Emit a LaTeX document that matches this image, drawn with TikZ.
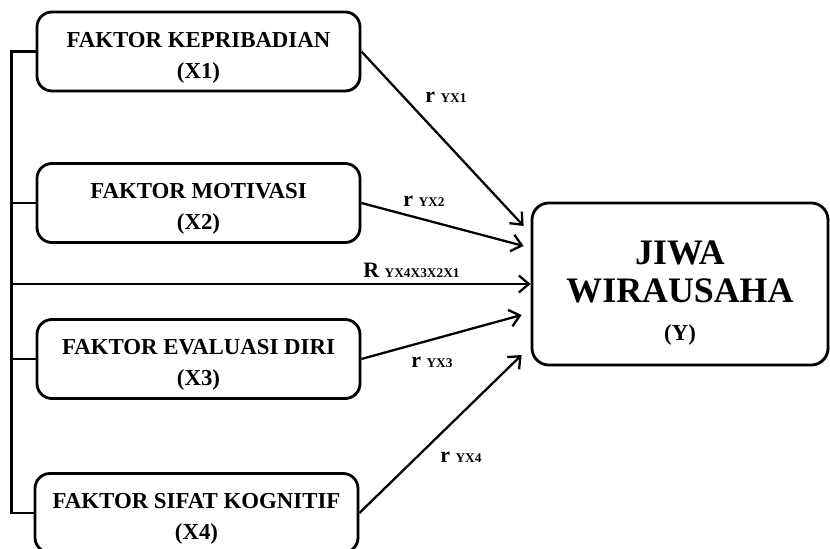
\documentclass[tikz,border=0pt]{standalone}
\usepackage{fontspec}
\setmainfont{Liberation Serif}
\usetikzlibrary{arrows.meta,positioning,shadows}
\newcommand{\fsub}[1]{{\fontsize{7.6}{8.5}\selectfont #1}}
\newcommand{\turun}[1]{\rule{0pt}{#1}}

\begin{document}
\begin{tikzpicture}[>={Straight Barb[length=2mm,width=3.4mm]},
 faktor/.style={rounded corners=8.5pt,draw,line width=1.6pt,fill=white,minimum width=6.46cm,minimum height=1.58cm,align=center,inner sep=2pt,font=\fontsize{13}{17.6}\selectfont\bfseries,drop shadow={shadow xshift=0.8pt,shadow yshift=-0.8pt,opacity=0.3}},
 hasil/.style={rounded corners=9.6pt,draw,line width=1.6pt,fill=white,minimum width=5.92cm,minimum height=3.24cm,align=center,inner sep=2pt,font=\fontsize{20.4}{21.5}\selectfont\bfseries,drop shadow={shadow xshift=0.8pt,shadow yshift=-0.8pt,opacity=0.3}},
 a/.style={->,line width=1.3pt},
 ln/.style={line width=1.4pt},
 lbl/.style={anchor=base west,inner sep=0pt,font=\fontsize{12.5}{14}\selectfont\bfseries}]
\useasboundingbox (0,0) rectangle (16.6,10.98);
\node[faktor] (x1) at (3.97,9.95) {\turun{15.4pt}FAKTOR KEPRIBADIAN\\(X1)};
\node[faktor] (x2) at (3.97,6.92) {\turun{15.4pt}FAKTOR MOTIVASI\\(X2)};
\node[faktor] (x3) at (3.97,3.80) {\turun{15.4pt}FAKTOR EVALUASI DIRI\\(X3)};
\node[faktor] (x4) at (3.93,0.72) {\turun{15.4pt}FAKTOR SIFAT KOGNITIF\\(X4)};
\node[hasil] (y) at (13.60,5.30) {\turun{23.7pt}JIWA\\WIRAUSAHA\\{\fontsize{13}{15}\selectfont (Y)}};

% garis penghubung kiri
\draw[ln] (x1.west) -- ++(-0.48,0) coordinate (b1) |- (x4.west);
\draw[ln] (x2.west) -- (x2.west -| b1);
\draw[ln] (x3.west) -- (x3.west -| b1);

% panah ke Y
\coordinate (r0) at (0.20,5.30);
\draw[a] (r0) -- (y.west);
\draw[a] (x1.east) -- ([xshift=-0.14cm,yshift=1.16cm]y.west);
\draw[a] (x2.east) -- ([xshift=-0.14cm,yshift=0.76cm]y.west);
\draw[a] (x3.east) -- ([xshift=-0.18cm,yshift=-0.62cm]y.west);
\draw[a] (x4.east) -- ([xshift=-0.18cm,yshift=-1.42cm]y.west);

\node[lbl] (l1) at (8.50,8.92) {r \fsub{YX1}};
\node[lbl] (l2) at (8.06,6.84) {r \fsub{YX2}};
\node[lbl] (lr) at (7.26,5.42) {R \fsub{YX4X3X2X1}};
\node[lbl] (l3) at (8.22,3.62) {r \fsub{YX3}};
\node[lbl] (l4) at (8.80,1.72) {r \fsub{YX4}};
\end{tikzpicture}
\end{document}
